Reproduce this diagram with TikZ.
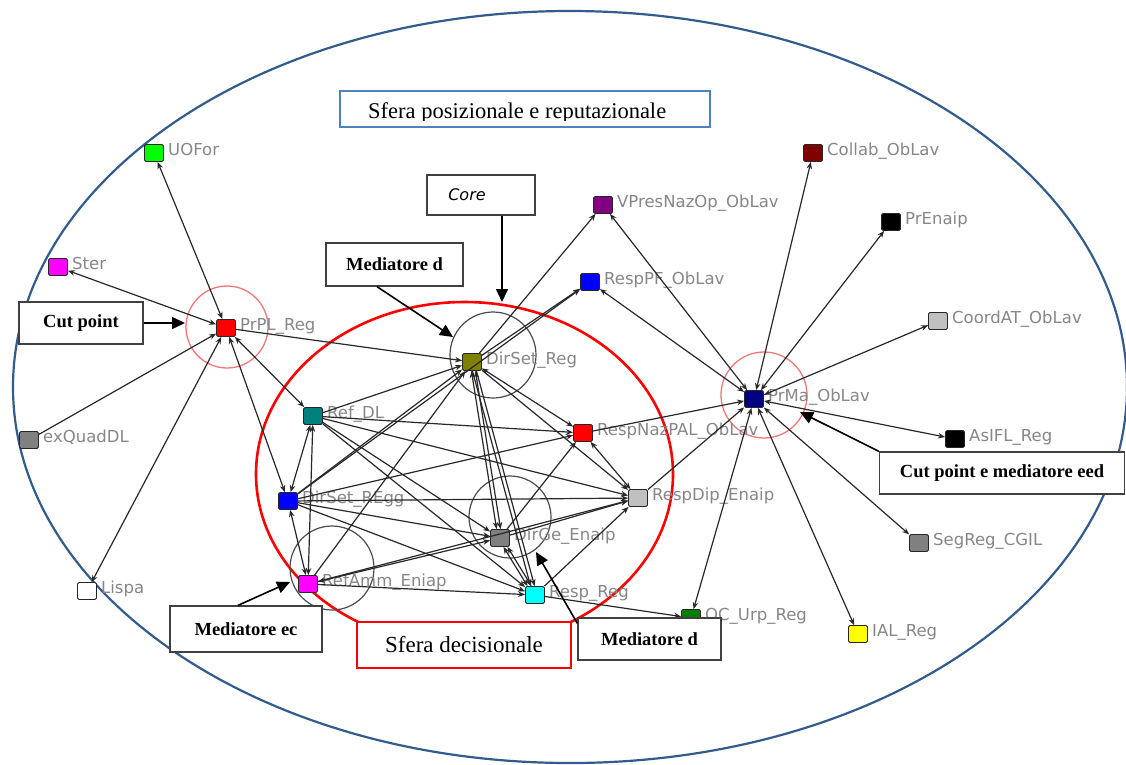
\documentclass[tikz,border=0pt]{standalone}
\usepackage{fontspec}
\setmainfont{Liberation Serif}
\newfontfamily\netfont{DejaVu Sans}
\usetikzlibrary{arrows.meta}

% palette
\definecolor{ellblue}{RGB}{50,92,142}
\definecolor{titleblue}{RGB}{79,129,189}
\definecolor{cutred}{RGB}{245,120,120}
\definecolor{linegray}{RGB}{40,40,40}
\definecolor{lblgray}{RGB}{135,135,135}
\definecolor{cGreen}{RGB}{0,255,0}
\definecolor{cMagenta}{RGB}{255,0,255}
\definecolor{cRed}{RGB}{255,0,0}
\definecolor{cGray}{RGB}{128,128,128}
\definecolor{cTeal}{RGB}{0,128,128}
\definecolor{cBlue}{RGB}{0,0,255}
\definecolor{cOlive}{RGB}{128,128,0}
\definecolor{cSilver}{RGB}{192,192,192}
\definecolor{cCyan}{RGB}{0,255,255}
\definecolor{cDGreen}{RGB}{0,128,0}
\definecolor{cYellow}{RGB}{255,255,0}
\definecolor{cNavy}{RGB}{0,0,128}
\definecolor{cMaroon}{RGB}{128,0,0}
\definecolor{cPurple}{RGB}{128,0,128}

\tikzset{
  vtx/.style={rectangle, draw=black!85, line width=0.8pt, minimum width=19pt,
    minimum height=17pt, inner sep=0pt, rounded corners=1.5pt},
  lbl/.style={font=\netfont\fontsize{16.5}{16.5}\selectfont, text=lblgray,
    inner sep=0pt, anchor=base west},
  edge/.style={draw=linegray, line width=1.2pt, >={Stealth[length=7pt,width=5.5pt]}},
  note/.style={draw=black!75, fill=white, line width=1.3pt, inner sep=0pt,
    font=\bfseries\fontsize{18.5}{19}\selectfont},
  notearrow/.style={draw=black, line width=1.6pt, -{Triangle[length=13pt,width=12pt]}},
  mediator/.style={draw=black!70, line width=1.2pt},
  cutring/.style={draw=cutred, line width=1.3pt},
}

% graph vertex with its label to the right
\newcommand\netnode[5]{%
  \node[vtx,fill=#4] (#1) at (#2,#3) {};
  \node[lbl] (#1-lab) at (#2+14,#3+2) {#5};}

\begin{document}
\begin{tikzpicture}[x=1pt,y=-1pt]
\path[use as bounding box, fill=white] (0,0) rectangle (1126,764);

% outer sphere and decision sphere
\draw[ellblue, line width=2.2pt] (570,387) ellipse [x radius=557pt, y radius=376pt];
\draw[red, line width=2.6pt] (464.5,474) ellipse [x radius=208.5pt, y radius=172pt];

% rings marking mediators and cut points
\draw[mediator] (493,355) circle [radius=43pt];
\draw[mediator] (510,517) circle [radius=41pt];
\draw[mediator] (332,568) circle [radius=42pt];
\draw[cutring] (227,327) circle [radius=41pt];
\draw[cutring] (764,395) circle [radius=43pt];

% actors
\netnode{uofor}{154}{153}{cGreen}{UOFor}
\netnode{ster}{58}{267}{cMagenta}{Ster}
\netnode{prpl}{226}{328}{cRed}{PrPL\_Reg}
\netnode{exq}{29}{440}{cGray}{exQuadDL}
\netnode{lispa}{87}{591}{white}{Lispa}
\netnode{refdl}{313}{416}{cTeal}{Ref\_DL}
\netnode{dsegg}{288}{501}{cBlue}{DirSet\_REgg}
\netnode{refamm}{308}{584}{cMagenta}{RefAmm\_Eniap}
\netnode{dsreg}{472}{362}{cOlive}{DirSet\_Reg}
\netnode{rnaz}{583}{433}{cRed}{RespNazPAL\_ObLav}
\netnode{rdip}{638}{498}{cSilver}{RespDip\_Enaip}
\netnode{dirge}{500}{538}{cGray}{DirGe\_Enaip}
\netnode{respreg}{535}{595}{cCyan}{Resp\_Reg}
\netnode{ocurp}{691}{618}{cDGreen}{OC\_Urp\_Reg}
\netnode{ial}{858}{634}{cYellow}{IAL\_Reg}
\netnode{segreg}{919}{543}{cGray}{SegReg\_CGIL}
\netnode{asifl}{955}{439}{black}{AsIFL\_Reg}
\netnode{prma}{754}{399}{cNavy}{PrMa\_ObLav}
\netnode{coordat}{938}{321}{cSilver}{CoordAT\_ObLav}
\netnode{prenaip}{891}{222}{black}{PrEnaip}
\netnode{collab}{813}{153}{cMaroon}{Collab\_ObLav}
\netnode{vpres}{603}{205}{cPurple}{VPresNazOp\_ObLav}
\netnode{resppf}{590}{282}{cBlue}{RespPF\_ObLav}

% ties of PrPL_Reg
\draw[edge,<->] (prpl) -- (uofor);
\draw[edge,<->] (prpl) -- (ster);
\draw[edge,->] (exq) -- (prpl);
\draw[edge,<->] (prpl) -- (lispa);
\draw[edge,<->] (prpl) -- (dsegg);
\draw[edge,<->] (prpl) -- (refdl);
\draw[edge,->] (prpl) -- (dsreg);

% ties of PrMa_ObLav
\draw[edge,<->] (prma) -- (resppf);
\draw[edge,<->] (prma) -- (vpres);
\draw[edge,<->] (prma) -- (collab);
\draw[edge,<->] (prma) -- (prenaip);
\draw[edge,<->] (prma) -- (coordat);
\draw[edge,<->] (prma) -- (asifl);
\draw[edge,<->] (prma) -- (segreg);
\draw[edge,<->] (prma) -- (ial);
\draw[edge,<->] (prma) -- (ocurp);
\draw[edge,->] (rnaz) -- (prma);
\draw[edge,->] (rdip) -- (prma);

% decision core
\draw[edge,->] (dsreg) -- (resppf);
\draw[edge,->] (dsegg) -- (resppf);
\draw[edge,->] (dsreg) -- (vpres);
\draw[edge,<->] (refdl) -- (dsegg);
\draw[edge,<->] (dsegg) -- (refamm);
\draw[edge,<->] (refdl) -- (refamm);
\draw[edge,->] (refdl) -- (dsreg);
\draw[edge,->] (dsegg) -- (dsreg);
\draw[edge,->] (refamm) -- (dsreg);
\draw[edge,->] (refdl) -- (rnaz);
\draw[edge,->] (dsegg) -- (rnaz);
\draw[edge,<->] (dsreg) -- (rnaz);
\draw[edge,->] (refdl) -- (rdip);
\draw[edge,->] (dsegg) -- (rdip);
\draw[edge,->] (dsreg) -- (rdip);
\draw[edge,<->] (rnaz) -- (rdip);
\draw[edge,->] (dirge) -- (rdip);
\draw[edge,->] (respreg) -- (rdip);
\draw[edge,->] (refamm) -- (rdip);
\draw[edge,->] (refdl) -- (dirge);
\draw[edge,->] (dsegg) -- (dirge);
\draw[edge,<->,transform canvas={xshift=-2pt}] (dsreg) -- (dirge);
\draw[edge,<->,transform canvas={xshift=2pt}] (dsreg) -- (dirge);
\draw[edge,<->] (refamm) -- (dirge);
\draw[edge,->] (refdl) -- (respreg);
\draw[edge,->] (dsegg) -- (respreg);
\draw[edge,->,transform canvas={xshift=-2pt}] (dsreg) -- (respreg);
\draw[edge,->,transform canvas={xshift=2pt}] (dsreg) -- (respreg);
\draw[edge,->] (refamm) -- (respreg);
\draw[edge,<->,transform canvas={xshift=-2pt}] (dirge) -- (respreg);
\draw[edge,<->,transform canvas={xshift=2pt}] (dirge) -- (respreg);
\draw[edge,->] (dirge) -- (rnaz);
\draw[edge,->] (respreg) -- (ocurp);

% annotation boxes
\node[note, draw=titleblue, line width=2pt, minimum width=370pt, minimum height=36pt]
  (title) at (525,109) {};
\begin{scope}
  \clip (340,92) rectangle (710,120);
  \node[inner sep=0pt, anchor=base west, font=\fontsize{22.5}{23}\selectfont]
    (titletext) at (368,118) {Sfera posizionale e reputazionale};
\end{scope}

\node[note, minimum width=108pt, minimum height=40pt,
  font=\netfont\itshape\fontsize{16}{16}\selectfont] (core) at (481,195)
  {Core\hspace*{28pt}};
\node[note, minimum width=137pt, minimum height=43pt] (medd1) at (394.5,264.5) {Mediatore d};
\node[note, minimum width=124pt, minimum height=42pt] (cutp) at (81,323) {Cut point};
\node[note, minimum width=152pt, minimum height=46pt] (medec) at (246,629) {Mediatore ec};
\node[note, draw=red, line width=1.3pt, minimum width=214pt, minimum height=46pt,
  font=\fontsize{23}{23}\selectfont] (sferadec) at (464,645) {Sfera decisionale};
\node[note, minimum width=143pt, minimum height=42pt] (medd2) at (649.5,639) {Mediatore d};
\node[note, minimum width=245pt, minimum height=42pt] (cutmed) at (1002,473)
  {Cut point e mediatore eed};

% pointers from the boxes
\coordinate (coretip) at (502,302);
\coordinate (medd1tip) at (453,337);
\coordinate (cutptip) at (185,323);
\coordinate (cutmedtip) at (800,412);
\coordinate (medectip) at (290,582);
\coordinate (medd2tip) at (536,552);
\draw[notearrow] ([xshift=21pt]core.south) -- (coretip);
\draw[notearrow] ([xshift=-17.5pt]medd1.south) -- (medd1tip);
\draw[notearrow] (cutp.east) -- (cutptip);
\draw[notearrow] (cutmed.north west) -- (cutmedtip);
\draw[notearrow] ([xshift=-8pt]medec.north) -- (medectip);
\draw[notearrow] ([yshift=-6pt]medd2.north west) -- (medd2tip);
\end{tikzpicture}
\end{document}
